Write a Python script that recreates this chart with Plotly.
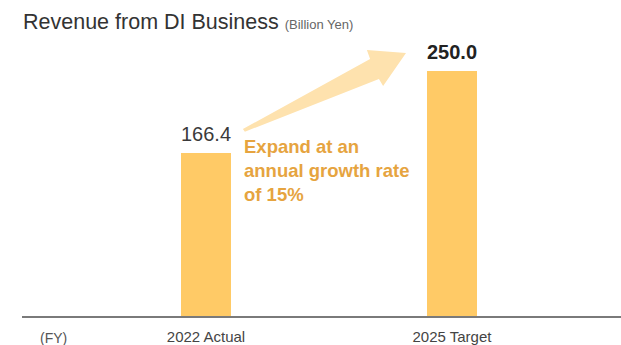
import plotly.graph_objects as go

# Revenue from DI Business (billion yen)
categories = ["2022 Actual", "2025 Target"]
revenue = [166.4, 250.0]
value_labels = ["166.4", "250.0"]
growth_note = "Expand at an<br>annual growth rate<br>of 15%"

BAR_COLOR = "#FFCA66"
ARROW_COLOR = "#FEE2AE"
NOTE_COLOR = "#E6A43F"
FONT = "Liberation Sans, Arial, sans-serif"

x_pos = list(range(len(categories)))

fig = go.Figure()
fig.add_trace(go.Bar(
    x=x_pos, y=revenue, width=0.203,
    marker=dict(color=BAR_COLOR, line=dict(width=0)),
    hoverinfo="skip", showlegend=False,
))

# value labels above bars
fig.add_annotation(x=x_pos[0], y=revenue[0], text=value_labels[0], showarrow=False,
                   yanchor="bottom", yshift=6,
                   font=dict(family=FONT, size=20, color="#3a3a3a"))
fig.add_annotation(x=x_pos[1], y=revenue[1], text="<b>" + value_labels[1] + "</b>",
                   showarrow=False, yanchor="bottom", yshift=6,
                   font=dict(family=FONT, size=20, color="#222222"))

# growth note
fig.add_annotation(x=0.145, y=186, xref="x", yref="y", text="<b>" + growth_note + "</b>",
                   showarrow=False, xanchor="left", yanchor="top", align="left",
                   font=dict(family=FONT, size=18.5, color=NOTE_COLOR))

# broad growth arrow from the 2022 label toward the 2025 label
arrow_pts = [(0.150, 190.8), (0.667, 262.2), (0.654, 271.4), (0.813, 268.4),
             (0.720, 234.7), (0.703, 241.8), (0.158, 188.0)]
path = "M " + " L ".join(f"{x},{y}" for x, y in arrow_pts) + " Z"
fig.add_shape(type="path", path=path, xref="x", yref="y",
              fillcolor=ARROW_COLOR, line=dict(width=0), layer="above")

# fiscal-year marker
fig.add_annotation(x=0.026, xref="paper", y=-22 / 286, yref="paper", yanchor="middle",
                   text="(FY)", showarrow=False,
                   font=dict(family=FONT, size=14, color="#555555"))

fig.update_layout(
    width=621, height=345,
    margin=dict(l=22, r=0, t=30, b=29),
    paper_bgcolor="white", plot_bgcolor="white",
    title=dict(
        text="Revenue from DI Business <span style='font-size:13px;color:#666666'>(Billion Yen)</span>",
        x=23 / 621, xref="container", xanchor="left",
        y=1 - 21 / 345, yref="container", yanchor="middle",
        font=dict(family=FONT, size=21.5, color="#333333"),
    ),
    xaxis=dict(
        range=[-0.748, 1.687], tickvals=x_pos, ticktext=categories,
        showgrid=False, zeroline=False, showline=True, linecolor="#7a7a7a", linewidth=1.5,
        ticks="", ticklabelstandoff=6, tickfont=dict(family=FONT, size=15, color="#444444"),
        fixedrange=True,
    ),
    yaxis=dict(range=[0, 291.8], visible=False, fixedrange=True),
    bargap=0,
)

fig.write_html("out.html")
